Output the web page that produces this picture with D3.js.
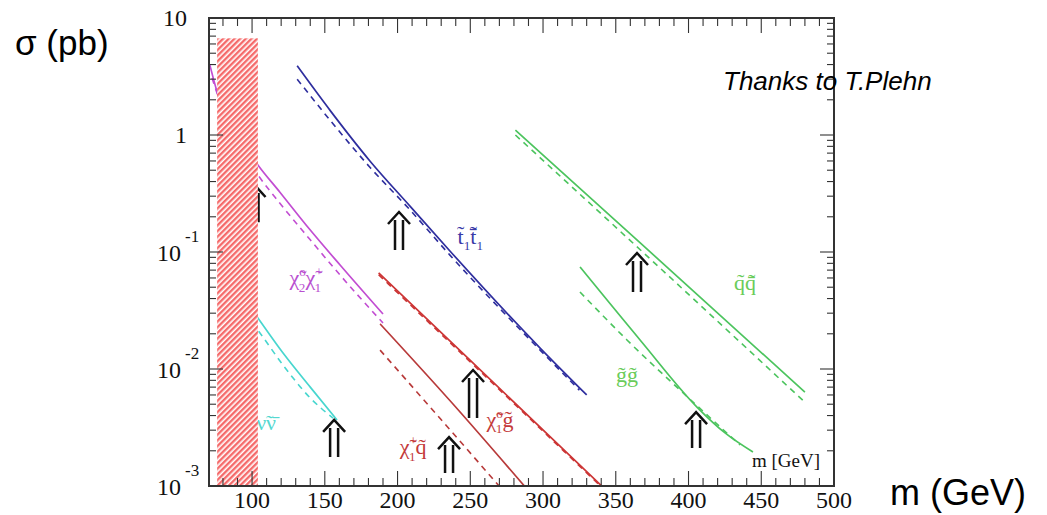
<!DOCTYPE html>
<html><head><meta charset="utf-8">
<script src="https://cdn.jsdelivr.net/npm/d3@7"></script>
<style>body{margin:0;background:#fff}svg{display:block}</style>
</head><body>
<svg id="chart" width="1047" height="515"></svg>
<script>
// ---------- data ----------
const xTickValues = [100,150,200,250,300,350,400,450,500];
const yTickValues = [10,1,0.1,0.01,0.001];
const yTickLabels = [["10",""],["1",""],["10","-1"],["10","-2"],["10","-3"]];

// stop pair  t1 t1bar
const stopM        = [131,154,181,209,236,298,330];
const stopSigma    = [3.9,1.60,0.60,0.243,0.102,0.0151,0.0060];
const stopDashM    = [131,154,181,209,236,298,325];
const stopDashSigma= [3.0,1.32,0.53,0.226,0.094,0.0145,0.0066];

// chi2^0 chi1^+
const n2c1M        = [71,76,88,104,119,140,160.5,190];
const n2c1Sigma    = [3.96,2.33,1.10,0.555,0.326,0.154,0.0774,0.0295];
const n2c1DashM    = [72.5,88,104,119,140,160.5,190];
const n2c1DashSigma= [3.07,0.906,0.455,0.262,0.127,0.0635,0.0247];

// sneutrino pair
const snuM         = [100,104,121.3,140,158.4];
const snuSigma     = [0.032,0.0273,0.0137,0.0070,0.00367];
const snuDashM     = [100,104,121.3,140,155.7];
const snuDashSigma = [0.025,0.0215,0.0108,0.00565,0.00381];

// chi1^0 gluino
const n1gM         = [187,250,345];
const n1gSigma     = [0.0662,0.01183,0.00088];
const n1gDashM     = [187,250,345];
const n1gDashSigma = [0.064,0.0115,0.00086];

// chi1^+ squark
const c1qM         = [188,237.5,290];
const c1qSigma     = [0.0243,0.00512,0.00091];
const c1qDashM     = [188,229,272];
const c1qDashSigma = [0.0145,0.00381,0.00093];

// squark pair
const sqM          = [281,367,480];
const sqSigma      = [1.10,0.119,0.00635];
const sqDashM      = [281,367,480];
const sqDashSigma  = [1.0,0.104,0.0052];

// gluino pair
const glM          = [325.4,366.7,405.8,425.1,444.3];
const glSigma      = [0.0745,0.0177,0.00473,0.00284,0.00195];
const glDashM      = [325.4,357.7,403.1,435.4];
const glDashSigma  = [0.0455,0.0177,0.00522,0.00224];

// reach arrows (mass, sigma at tip, sigma at tail)
const arrowM       = [101.7,156.4,201,235.4,251.9,364.6,405.2];
const arrowTop     = [0.374,0.00367,0.2198,0.00262,0.0098,0.098,0.00428];
const arrowBottom  = [0.180,0.00177,0.104,0.00129,0.00381,0.0455,0.00211];

// excluded region
const limitM       = [76,104];
const limitSigma   = [0.001,6.7];

// process labels (anchor mass, sigma)
const labelM       = [250,137.1,210.7,270.4,438.8,357.7,116.5];
const labelSigma   = [0.118,0.052,0.00188,0.0032,0.0475,0.0077,0.0030];

// ---------- chart ----------
const svg=d3.select("#chart");
const L=209,R=834,T=18,B=486;
const x=d3.scaleLinear().domain([70.4,500]).range([L,R]);
const y=d3.scaleLog().domain([1e-3,10]).range([B,T]);

const defs=svg.append("defs");
const pat=defs.append("pattern").attr("id","hatch").attr("patternUnits","userSpaceOnUse")
  .attr("width",4).attr("height",4).attr("patternTransform","rotate(45)");
pat.append("rect").attr("width",4).attr("height",4).attr("fill","#fff");
pat.append("rect").attr("width",2.4).attr("height",4).attr("fill","#f56a6a");
defs.append("clipPath").attr("id","plotclip").append("rect")
  .attr("x",L).attr("y",T).attr("width",R-L).attr("height",B-T);

const plot=svg.append("g").attr("clip-path","url(#plotclip)");
const line=d3.line().x(d=>x(d[0])).y(d=>y(d[1])).curve(d3.curveMonotoneX);
const zip=(a,b)=>a.map((v,i)=>[v,b[i]]);

const series=[
  {c:"#2e2e9e", s:zip(stopM,stopSigma), d:zip(stopDashM,stopDashSigma)},
  {c:"#c24dd2", s:zip(n2c1M,n2c1Sigma), d:zip(n2c1DashM,n2c1DashSigma)},
  {c:"#48d6cf", s:zip(snuM,snuSigma), d:zip(snuDashM,snuDashSigma)},
  {c:"#cc3535", s:zip(n1gM,n1gSigma), d:zip(n1gDashM,n1gDashSigma)},
  {c:"#b83a3a", s:zip(c1qM,c1qSigma), d:zip(c1qDashM,c1qDashSigma)},
  {c:"#4cc45e", s:zip(sqM,sqSigma), d:zip(sqDashM,sqDashSigma)},
  {c:"#4cc45e", s:zip(glM,glSigma), d:zip(glDashM,glDashSigma)}
];
series.forEach(sr=>{
  plot.append("path").attr("d",line(sr.d)).attr("fill","none").attr("stroke",sr.c)
    .attr("stroke-width",1.6).attr("stroke-dasharray","6,5");
  plot.append("path").attr("d",line(sr.s)).attr("fill","none").attr("stroke",sr.c)
    .attr("stroke-width",1.7);
});

// labels
const fs=22;
function rich(sel,parts){
  let shift=0;
  parts.forEach(p=>{
    const [txt,kind,dx]=p;
    const target= kind==="sub"?0.3*fs:kind==="sup"?-0.4*fs:0;
    const t=sel.append("tspan").text(txt).attr("dy",target-shift);
    if(dx) t.attr("dx",dx);
    if(kind!=="n") t.attr("font-size",fs*0.6);
    shift=target;
  });
}
const labelParts=[
  [["t\u0303","n"],["1","sub"],["t\u0303\u0304","n"],["1","sub"]],
  [["\u03c7\u0303","n"],["o","sup"],["2","sub",-7],["\u03c7\u0303","n"],["+","sup"],["1","sub",-8]],
  [["\u03c7\u0303","n"],["+","sup"],["1","sub",-8],["q\u0303","n"]],
  [["\u03c7\u0303","n"],["o","sup"],["1","sub",-7],["g\u0303","n"]],
  [["q\u0303","n"],["q\u0303\u0304","n"]],
  [["g\u0303g\u0303","n"]],
  [["\u03bd\u0303\u03bd\u0304","n"]]
];
const labelColors=["#3a3aa8","#b94fd0","#c43a3a","#c43a3a","#6acc5a","#6acc5a","#55d8d0"];
const labelAnchor=["middle","middle","middle","middle","middle","middle","end"];
labelParts.forEach((parts,i)=>{
  const t=plot.append("text").attr("x",x(labelM[i])).attr("y",y(labelSigma[i]))
    .attr("font-family","Liberation Serif, serif").attr("font-size",fs)
    .attr("fill",labelColors[i]).attr("text-anchor",labelAnchor[i]);
  rich(t,parts);
});

// arrows
arrowM.forEach((m,i)=>{
  const cx=x(m), top=y(arrowTop[i]), bot=y(arrowBottom[i]);
  plot.append("path")
    .attr("d",`M${cx-4},${bot}V${top+8}M${cx+4},${bot}V${top+8}M${cx-11},${top+12}L${cx},${top}L${cx+11},${top+12}`)
    .attr("fill","none").attr("stroke","#111").attr("stroke-width",2.5).attr("stroke-linejoin","miter");
});

// excluded region
plot.append("rect").attr("x",x(limitM[0])).attr("y",y(limitSigma[1]))
  .attr("width",x(limitM[1])-x(limitM[0])).attr("height",y(limitSigma[0])-y(limitSigma[1]))
  .attr("fill","url(#hatch)");

// frame & ticks
const frame=svg.append("g").attr("stroke","#333").attr("fill","none");
d3.range(80,501,10).forEach(v=>{
  const len=v%50===0?15:8, px=x(v);
  frame.append("line").attr("x1",px).attr("x2",px).attr("y1",B).attr("y2",B-len).attr("stroke-width",1.1);
  frame.append("line").attr("x1",px).attr("x2",px).attr("y1",T).attr("y2",T+len).attr("stroke-width",1.1);
});
const yMinor=[];
[-3,-2,-1,0].forEach(k=>{for(let j=1;j<10;j++) yMinor.push(j*Math.pow(10,k));});
yMinor.push(10);
yMinor.forEach(v=>{
  const lg=Math.log10(v), major=Math.abs(lg-Math.round(lg))<1e-9;
  const len=major?14:7, py=y(v);
  frame.append("line").attr("x1",L).attr("x2",L+len).attr("y1",py).attr("y2",py).attr("stroke-width",1.1);
  frame.append("line").attr("x1",R).attr("x2",R-len).attr("y1",py).attr("y2",py).attr("stroke-width",1.1);
});
frame.append("rect").attr("x",L).attr("y",T).attr("width",R-L).attr("height",B-T).attr("stroke-width",2);

// tick labels
const tl=svg.append("g").attr("font-family","Liberation Serif, serif").attr("fill","#111");
xTickValues.forEach(v=>{
  tl.append("text").attr("x",x(v)).attr("y",508).attr("text-anchor","middle").attr("font-size",24).text(v);
});
yTickValues.forEach((v,i)=>{
  const [base,exp]=yTickLabels[i];
  const py=y(v);
  if(exp===""){
    tl.append("text").attr("x",187).attr("y",py+8).attr("text-anchor","end").attr("font-size",24).text(base);
  } else {
    tl.append("text").attr("x",181).attr("y",py+9).attr("text-anchor","end").attr("font-size",24).text(base);
    tl.append("text").attr("x",185).attr("y",py-10).attr("font-size",17).text(exp);
  }
});

// axis titles & annotations
svg.append("text").attr("x",15).attr("y",55).attr("font-family","Liberation Sans, Arial, sans-serif")
  .attr("font-size",35).attr("fill","#000").text("\u03c3 (pb)");
svg.append("text").attr("x",890).attr("y",505).attr("font-family","Liberation Sans, Arial, sans-serif")
  .attr("font-size",36).attr("fill","#000").text("m (GeV)");
svg.append("text").attr("x",723).attr("y",90).attr("font-family","Liberation Sans, Arial, sans-serif")
  .attr("font-size",26).attr("font-style","italic").attr("fill","#000").text("Thanks to T.Plehn");
svg.append("text").attr("x",752).attr("y",467).attr("font-family","Liberation Serif, serif")
  .attr("font-size",19).attr("fill","#111").text("m [GeV]");
</script>
</body></html>
